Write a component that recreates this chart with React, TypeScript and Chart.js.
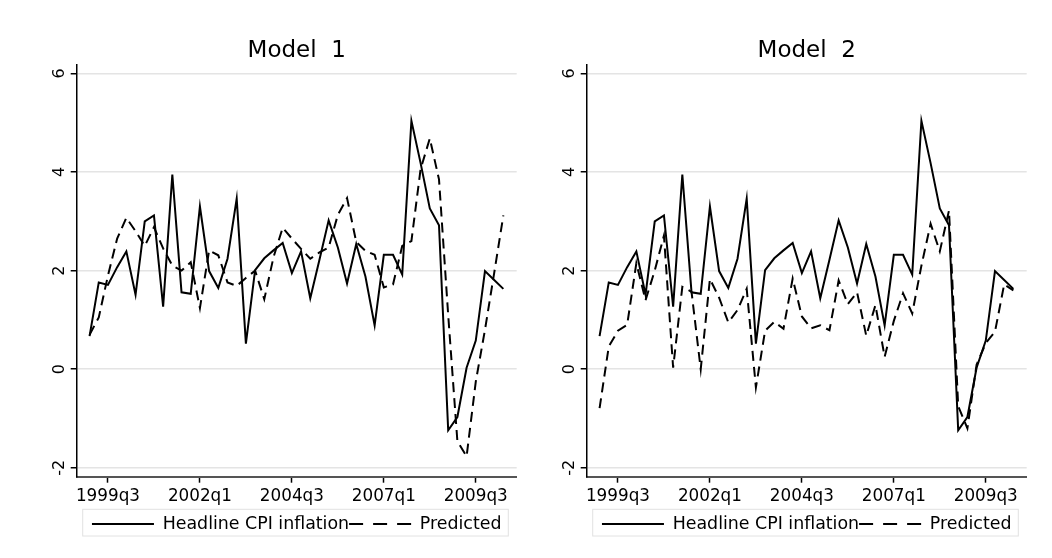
import React, { useEffect, useRef } from "react";
import { Chart, registerables } from "chart.js";

Chart.register(...registerables);

const quarters = [
  "1999q1", "1999q2", "1999q3", "1999q4",
  "2000q1", "2000q2", "2000q3", "2000q4",
  "2001q1", "2001q2", "2001q3", "2001q4",
  "2002q1", "2002q2", "2002q3", "2002q4",
  "2003q1", "2003q2", "2003q3", "2003q4",
  "2004q1", "2004q2", "2004q3", "2004q4",
  "2005q1", "2005q2", "2005q3", "2005q4",
  "2006q1", "2006q2", "2006q3", "2006q4",
  "2007q1", "2007q2", "2007q3", "2007q4",
  "2008q1", "2008q2", "2008q3", "2008q4",
  "2009q1", "2009q2", "2009q3", "2009q4",
  "2010q1", "2010q2",
];

const tickQuarters = ["1999q3", "2002q1", "2004q3", "2007q1", "2009q3"];
const yTicks = [-2, 0, 2, 4, 6];

const actual = [
  0.67, 1.76, 1.71, 2.07, 2.39, 1.51, 3.0, 3.12, 1.27, 3.95,
  1.56, 1.53, 3.3, 1.99, 1.65, 2.24, 3.46, 0.52, 2.01, 2.25,
  2.41, 2.56, 1.95, 2.39, 1.44, 2.22, 3.02, 2.47, 1.74, 2.54,
  1.88, 0.89, 2.32, 2.32, 1.92, 5.04, 4.18, 3.26, 2.92, -1.24,
  -0.97, 0.03, 0.58, 1.99, 1.81, 1.63,
];

const predictedModel1 = [
  0.7, 1.05, 1.9, 2.65, 3.07, 2.8, 2.5, 2.88, 2.45, 2.1,
  2.0, 2.17, 1.24, 2.41, 2.31, 1.76, 1.69, 1.85, 2.0, 1.42,
  2.27, 2.87, 2.65, 2.44, 2.24, 2.37, 2.47, 3.13, 3.47, 2.58,
  2.4, 2.32, 1.66, 1.72, 2.5, 2.6, 4.06, 4.68, 3.85, 1.1,
  -1.46, -1.77, -0.25, 0.8, 1.95, 3.12,
];

const predictedModel2 = [
  -0.79, 0.46, 0.78, 0.9, 2.15, 1.4, 2.0, 2.71, 0.03, 1.67,
  1.57, 0.0, 1.83, 1.45, 0.95, 1.2, 1.63, -0.37, 0.78, 0.96,
  0.82, 1.84, 1.07, 0.83, 0.89, 0.79, 1.8, 1.32, 1.56, 0.68,
  1.3, 0.25, 0.98, 1.54, 1.13, 2.1, 2.95, 2.39, 3.22, -0.75,
  -1.2, 0.09, 0.53, 0.76, 1.72, 1.6,
];

const panelTitles = ["Model  1", "Model  2"];
const seriesLabels = ["Headline CPI inflation", "Predicted"];

const FONT = "'DejaVu Sans', 'Liberation Sans', sans-serif";

const legendFrame = {
  id: "legendFrame",
  beforeDraw(chart: any) {
    const l = chart.legend;
    const a = chart.chartArea;
    if (!l || !a) return;
    const ctx = chart.ctx;
    ctx.save();
    ctx.strokeStyle = "#e2e2e2";
    ctx.lineWidth = 1;
    ctx.strokeRect(a.left + 6, l.top - 6, a.right - a.left - 14.4, 26.7);
    ctx.restore();
  },
};

function makeConfig(title: string, predicted: number[]): any {
  return {
    type: "line",
    data: {
      datasets: [
        {
          label: seriesLabels[0],
          data: actual.map((v, i) => ({ x: i, y: v })),
          borderColor: "#000",
          backgroundColor: "#000",
          borderWidth: 2,
          pointRadius: 0,
          tension: 0,
          fill: false,
          borderJoinStyle: "miter",
        },
        {
          label: seriesLabels[1],
          data: predicted.map((v, i) => ({ x: i, y: v })),
          borderColor: "#000",
          backgroundColor: "#000",
          borderWidth: 2,
          borderDash: [10, 6],
          pointRadius: 0,
          tension: 0,
          fill: false,
          borderJoinStyle: "miter",
        },
      ],
    },
    options: {
      animation: false,
      responsive: false,
      maintainAspectRatio: false,
      events: [],
      layout: { padding: { left: 0, right: 9.3, top: 0, bottom: 15.3 } },
      scales: {
        x: {
          type: "linear",
          min: -1.4,
          max: 46.45,
          afterBuildTicks: (s: any) => {
            s.ticks = tickQuarters.map((q) => ({ value: quarters.indexOf(q) }));
          },
          afterFit: (s: any) => {
            s.height = 38.6;
          },
          ticks: {
            callback: (v: number) => quarters[v],
            autoSkip: false,
            maxRotation: 0,
            minRotation: 0,
            padding: 4,
            color: "#000",
            font: { family: FONT, size: 16.8 },
          },
          grid: {
            drawOnChartArea: false,
            drawTicks: true,
            tickLength: 6,
            tickColor: "#000",
            tickWidth: 1.5,
          },
          border: { display: true, color: "#555", width: 2 },
        },
        y: {
          type: "linear",
          min: -2.18,
          max: 6.17,
          afterBuildTicks: (s: any) => {
            s.ticks = yTicks.map((v) => ({ value: v }));
          },
          afterFit: (s: any) => {
            s.width = 76.7;
          },
          ticks: {
            minRotation: 90,
            maxRotation: 90,
            crossAlign: "center",
            padding: 3,
            color: "#000",
            font: { family: FONT, size: 16 },
          },
          grid: {
            color: "#e4e4e4",
            lineWidth: 1.5,
            tickLength: 6,
            tickColor: "#000",
            tickWidth: 1.5,
          },
          border: { display: true, color: "#000", width: 1.5 },
        },
      },
      plugins: {
        title: {
          display: true,
          text: title,
          fullSize: false,
          color: "#000",
          font: { family: FONT, size: 23, weight: "normal" },
          padding: { top: 37.4, bottom: 0 },
        },
        legend: {
          display: true,
          position: "bottom",
          fullSize: false,
          labels: {
            usePointStyle: true,
            pointStyle: "line",
            pointStyleWidth: 62,
            padding: 0,
            color: "#000",
            font: { family: FONT, size: 17.4 },
            generateLabels: (chart: any) => {
              const items = Chart.defaults.plugins.legend.labels.generateLabels(chart);
              return items.map((item: any) => {
                const ds = chart.data.datasets[item.datasetIndex];
                return {
                  ...item,
                  lineDash: ds.borderDash ? [14, 10] : [],
                  lineWidth: 2,
                  strokeStyle: "#000",
                  fillStyle: "#000",
                  pointStyle: "line",
                };
              });
            },
          },
        },
        tooltip: { enabled: false },
      },
    },
    plugins: [legendFrame],
  };
}

function Panel({ title, predicted, left }: { title: string; predicted: number[]; left: number }) {
  const ref = useRef<HTMLCanvasElement>(null);
  useEffect(() => {
    if (!ref.current) return;
    const chart = new Chart(ref.current, makeConfig(title, predicted));
    return () => chart.destroy();
  }, [title, predicted]);
  return (
    <canvas
      ref={ref}
      width={526}
      height={558}
      style={{ position: "absolute", left, top: 0, width: 526, height: 558 }}
    />
  );
}

export default function App() {
  return (
    <div
      style={{
        position: "absolute",
        left: 0,
        top: 0,
        width: 1052,
        height: 558,
        background: "#fff",
        overflow: "hidden",
      }}
    >
      <Panel title={panelTitles[0]} predicted={predictedModel1} left={0} />
      <Panel title={panelTitles[1]} predicted={predictedModel2} left={510} />
    </div>
  );
}
